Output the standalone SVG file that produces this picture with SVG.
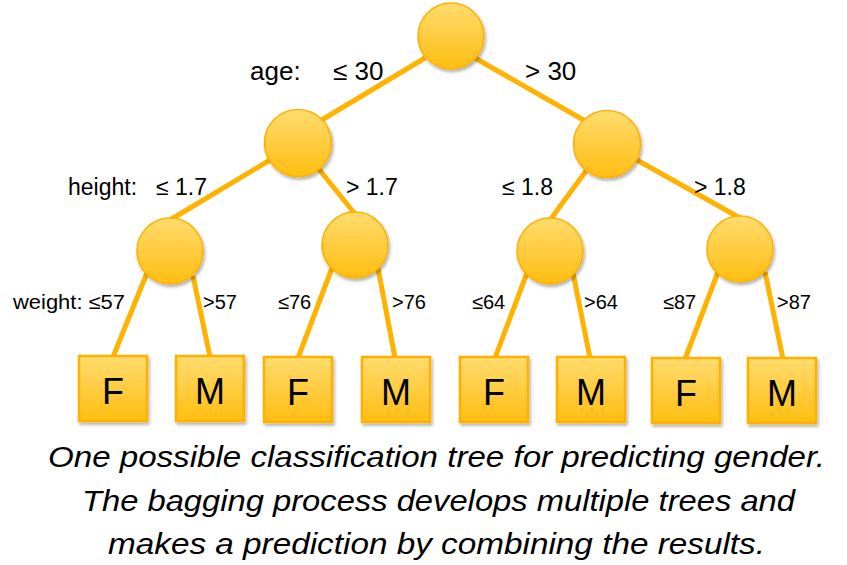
<svg xmlns="http://www.w3.org/2000/svg" width="847" height="565" viewBox="0 0 847 565">
<defs>
<linearGradient id="gc" x1="0" y1="0" x2="0" y2="1">
<stop offset="0" stop-color="#FFDC6E"/>
<stop offset="0.55" stop-color="#FFCB3C"/>
<stop offset="1" stop-color="#FFBE10"/>
</linearGradient>
<linearGradient id="gb" x1="0" y1="0" x2="0" y2="1">
<stop offset="0" stop-color="#FFDC6E"/>
<stop offset="0.55" stop-color="#FFCB3C"/>
<stop offset="1" stop-color="#FFBE10"/>
</linearGradient>
<filter id="sh" x="-20%" y="-20%" width="150%" height="150%">
<feDropShadow dx="1.5" dy="2.5" stdDeviation="1.5" flood-color="#000" flood-opacity="0.3"/>
</filter>
</defs>
<style>
.c{fill:url(#gc);stroke:#FFB000;stroke-width:1.5;filter:url(#sh)}
.b{fill:url(#gb);stroke:#FFB000;stroke-width:2.5;filter:url(#sh)}
.e{stroke:#FFB300;stroke-width:5;stroke-linecap:butt;fill:none}
.t{font-family:"Liberation Sans",Arial,sans-serif;fill:#000}
.l0{font-size:26px}
.l1{font-size:23px}
.l2{font-size:20px}
.lf{font-size:36px;text-anchor:middle}
.cap{font-family:"Liberation Sans",Arial,sans-serif;font-style:italic;font-size:30px;text-anchor:middle;fill:#000}
</style>
<g id="connectors">
<line class="e" x1="425" y1="58" x2="320" y2="121"/>
<line class="e" x1="475" y1="58" x2="587" y2="122"/>
<line class="e" x1="270" y1="160" x2="170" y2="220"/>
<line class="e" x1="318" y1="168" x2="355" y2="214"/>
<line class="e" x1="586" y1="171" x2="550" y2="220"/>
<line class="e" x1="637" y1="160" x2="740" y2="218"/>
<line class="e" x1="147" y1="273" x2="113" y2="357"/>
<line class="e" x1="193" y1="276" x2="210" y2="357"/>
<line class="e" x1="332" y1="268" x2="298" y2="358"/>
<line class="e" x1="378" y1="268" x2="395" y2="358"/>
<line class="e" x1="527" y1="273" x2="495" y2="358"/>
<line class="e" x1="573" y1="273" x2="590" y2="358"/>
<line class="e" x1="718" y1="272" x2="685" y2="359"/>
<line class="e" x1="765" y1="272" x2="783" y2="359"/>
</g>
<g id="root"><circle class="c" cx="451" cy="36" r="33"/></g>
<g id="n-left"><circle class="c" cx="298" cy="143" r="33.5"/></g>
<g id="n-right"><circle class="c" cx="607" cy="144" r="33.5"/></g>
<g id="n-ll"><circle class="c" cx="170" cy="251" r="33"/></g>
<g id="n-lr"><circle class="c" cx="355" cy="245" r="33"/></g>
<g id="n-rl"><circle class="c" cx="550" cy="251" r="33"/></g>
<g id="n-rr"><circle class="c" cx="740" cy="249" r="33"/></g>
<g id="leaf1"><rect class="b" x="79" y="356" width="68" height="65"/><text class="t lf" x="113" y="404">F</text></g>
<g id="leaf2"><rect class="b" x="176" y="356" width="68" height="65"/><text class="t lf" x="210" y="404">M</text></g>
<g id="leaf3"><rect class="b" x="264" y="357" width="68" height="65"/><text class="t lf" x="298" y="405">F</text></g>
<g id="leaf4"><rect class="b" x="362" y="357" width="68" height="65"/><text class="t lf" x="396" y="405">M</text></g>
<g id="leaf5"><rect class="b" x="460" y="357" width="68" height="65"/><text class="t lf" x="494" y="405">F</text></g>
<g id="leaf6"><rect class="b" x="557" y="357" width="68" height="65"/><text class="t lf" x="591" y="405">M</text></g>
<g id="leaf7"><rect class="b" x="652" y="358" width="68" height="65"/><text class="t lf" x="686" y="406">F</text></g>
<g id="leaf8"><rect class="b" x="748" y="358" width="68" height="65"/><text class="t lf" x="782" y="406">M</text></g>
<g id="labels">
<text class="t l0" x="250" y="80">age:</text>
<text class="t l0" x="333" y="80">≤ 30</text>
<text class="t l0" x="525" y="80">&gt; 30</text>
<text class="t l1" x="68" y="195">height:</text>
<text class="t l1" x="156" y="195">≤ 1.7</text>
<text class="t l1" x="346" y="195">&gt; 1.7</text>
<text class="t l1" x="502" y="195">≤ 1.8</text>
<text class="t l1" x="694" y="195">&gt; 1.8</text>
<text class="t l2" x="13" y="309" textLength="112" lengthAdjust="spacingAndGlyphs">weight: ≤57</text>
<text class="t l2" x="203" y="309">&gt;57</text>
<text class="t l2" x="278" y="309">≤76</text>
<text class="t l2" x="392" y="309">&gt;76</text>
<text class="t l2" x="472" y="309">≤64</text>
<text class="t l2" x="584" y="309">&gt;64</text>
<text class="t l2" x="663" y="309">≤87</text>
<text class="t l2" x="777" y="309">&gt;87</text>
</g>
<g id="caption">
<text class="cap" x="436.5" y="467" textLength="777" lengthAdjust="spacingAndGlyphs">One possible classification tree for predicting gender.</text>
<text class="cap" x="438.5" y="511" textLength="713" lengthAdjust="spacingAndGlyphs">The bagging process develops multiple trees and</text>
<text class="cap" x="436.5" y="554" textLength="657" lengthAdjust="spacingAndGlyphs">makes a prediction by combining the results.</text>
</g>
</svg>
